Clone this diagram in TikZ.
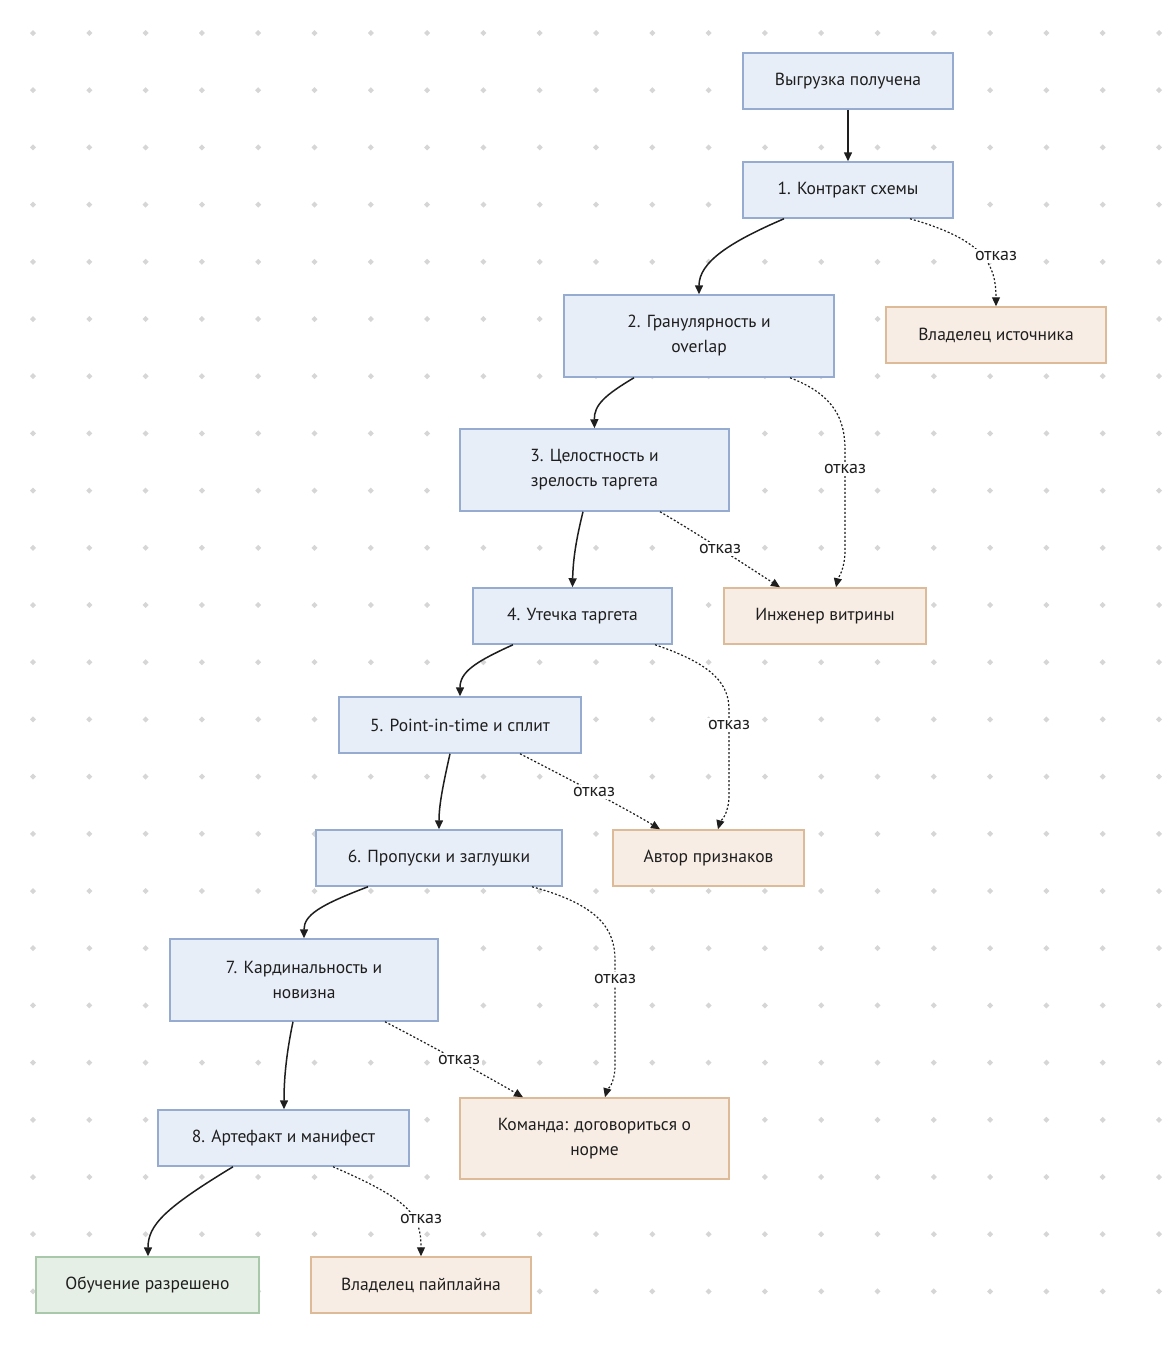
\documentclass[tikz,border=0pt]{standalone}
\usepackage{fontspec}
\setmainfont{PT Sans}
\usetikzlibrary{arrows.meta}
\definecolor{bluefill}{HTML}{E8EEF8}
\definecolor{blueline}{HTML}{95ACD0}
\definecolor{orfill}{HTML}{F7EDE4}
\definecolor{orline}{HTML}{DDBB98}
\definecolor{grfill}{HTML}{E6EFE6}
\definecolor{grline}{HTML}{A9C7A9}
\definecolor{dotc}{HTML}{D6D6D6}
\definecolor{txt}{HTML}{1E1E1E}
\definecolor{edgec}{HTML}{1E1E1E}
\tikzset{
  base/.style={draw, line width=1.5pt, inner sep=0pt, align=center, text=txt,
    font=\fontsize{17.5}{25}\selectfont},
  bluebox/.style={base, fill=bluefill, draw=blueline},
  orbox/.style={base, fill=orfill, draw=orline},
  grbox/.style={base, fill=grfill, draw=grline},
  sz/.style 2 args={minimum width=#1pt, minimum height=#2pt},
  solidarrow/.style={draw=edgec, line width=1.5pt, -{Triangle[length=9pt,width=8pt]}},
  dotarrow/.style={draw=edgec, line width=1.2pt, dash pattern=on 2pt off 2pt, -{Triangle[length=9pt,width=8pt]}},
  lbl/.style={fill=white, inner sep=2pt, text=txt, font=\fontsize{18}{20}\selectfont}
}
\begin{document}
\begin{tikzpicture}[x=1pt, y=-1pt]
\useasboundingbox (0,0) rectangle (1169,1345);
\fill[white] (0,0) rectangle (1169,1345);
\foreach \i in {0,...,20}{
  \foreach \j in {0,...,22}{
    \fill[dotc] ({33+56.3*\i},{33+57.2*\j}) +(-3,0) -- +(0,-3) -- +(3,0) -- +(0,3) -- cycle;
  }
}
% nodes
\node[bluebox, sz={210}{56}] (n0) at (848,81) {Выгрузка получена};
\node[bluebox, sz={210}{56}] (n1) at (848,190) {1. Контракт схемы};
\node[bluebox, sz={270}{82}] (n2) at (699,336) {2. Гранулярность и\\overlap};
\node[orbox, sz={220}{56}] (own1) at (996,335) {Владелец источника};
\node[bluebox, sz={269}{82}] (n3) at (594.5,470) {3. Целостность и\\зрелость таргета};
\node[bluebox, sz={199}{56}] (n4) at (572.5,616) {4. Утечка таргета};
\node[orbox, sz={202}{56}] (eng) at (825,616) {Инженер витрины};
\node[bluebox, sz={242}{56}] (n5) at (460,725) {5. Point-in-time и сплит};
\node[bluebox, sz={246}{56}] (n6) at (439,858) {6. Пропуски и заглушки};
\node[orbox, sz={191}{56}] (auth) at (708.5,858) {Автор признаков};
\node[bluebox, sz={268}{82}] (n7) at (304,980) {7. Кардинальность и\\новизна};
\node[bluebox, sz={251}{56}] (n8) at (283.5,1138) {8. Артефакт и манифест};
\node[orbox, sz={269}{81}] (team) at (594.5,1138.5) {Команда: договориться о\\норме};
\node[grbox, sz={223}{56}] (train) at (147.5,1285) {Обучение разрешено};
\node[orbox, sz={220}{56}] (pipe) at (421,1285) {Владелец пайплайна};
% solid edges
\draw[solidarrow] (n0) -- (n1);
\draw[solidarrow] ([xshift=-64pt]n1.south) .. controls (730,242) and (699,262) .. (n2.north);
\draw[solidarrow] ([xshift=-65pt]n2.south) .. controls (605,395) and (594,405) .. (n3.north);
\draw[solidarrow] ([xshift=-11.5pt]n3.south) .. controls (576,540) and (573,560) .. (n4.north);
\draw[solidarrow] ([xshift=-59.5pt]n4.south) .. controls (475,662) and (460,672) .. (n5.north);
\draw[solidarrow] ([xshift=-10pt]n5.south) .. controls (443,785) and (439,805) .. (n6.north);
\draw[solidarrow] ([xshift=-71pt]n6.south) .. controls (320,905) and (304,915) .. (n7.north);
\draw[solidarrow] ([xshift=-11pt]n7.south) .. controls (286,1055) and (284,1080) .. ([xshift=0.5pt]n8.north);
\draw[solidarrow] ([xshift=-50.5pt]n8.south) .. controls (165,1208) and (148,1225) .. ([xshift=0.5pt]train.north);
% dotted edges
\draw[dotarrow] ([xshift=62pt]n1.south) .. controls (985,240) and (996,265) .. (own1.north);
\draw[dotarrow] ([xshift=91pt]n2.south) .. controls (835,395) and (845,420) .. (845,450) -- (845,550) .. controls (845,570) and (838,578) .. ([xshift=11pt]eng.north);
\draw[dotarrow] ([xshift=65.5pt]n3.south) .. controls (700,535) and (750,568) .. ([xshift=-45pt]eng.north);
\draw[dotarrow] ([xshift=82.5pt]n4.south) .. controls (715,665) and (729,685) .. (729,710) -- (729,795) .. controls (729,815) and (720,822) .. ([xshift=9.5pt]auth.north);
\draw[dotarrow] ([xshift=60pt]n5.south) .. controls (565,777) and (625,808) .. ([xshift=-48.5pt]auth.north);
\draw[dotarrow] ([xshift=93pt]n6.south) .. controls (600,905) and (615,930) .. (615,960) -- (615,1065) .. controls (615,1085) and (607,1090) .. ([xshift=10.5pt]team.north);
\draw[dotarrow] ([xshift=81pt]n7.south) .. controls (430,1045) and (490,1078) .. ([xshift=-71.5pt]team.north);
\draw[dotarrow] ([xshift=49.5pt]n8.south) .. controls (410,1200) and (421,1215) .. (pipe.north);
% labels
\node[lbl] (l1) at (996,256) {отказ};
\node[lbl] (l2) at (845,469) {отказ};
\node[lbl] (l3) at (720,549) {отказ};
\node[lbl] (l4) at (729,725) {отказ};
\node[lbl] (l5) at (594,792) {отказ};
\node[lbl] (l6) at (615,979) {отказ};
\node[lbl] (l7) at (459,1060) {отказ};
\node[lbl] (l8) at (421,1219) {отказ};
\end{tikzpicture}
\end{document}
